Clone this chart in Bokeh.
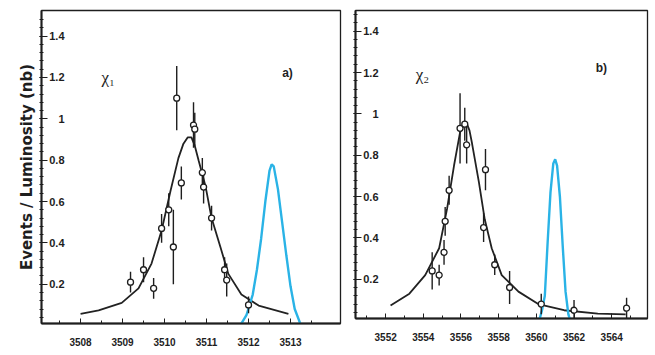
import numpy as np
from bokeh.plotting import figure
from bokeh.layouts import row
from bokeh.models import Range1d, FixedTicker, Label
from bokeh.embed import file_html
from bokeh.resources import INLINE

# ---------------- data: panel a) chi_1 ----------------
a_x = [3509.19, 3509.50, 3509.74, 3509.93, 3510.10, 3510.21, 3510.29, 3510.40,
       3510.69, 3510.72, 3510.90, 3510.93, 3511.12, 3511.43, 3511.48, 3512.00]
a_y = [0.21, 0.27, 0.18, 0.47, 0.56, 0.38, 1.10, 0.69,
       0.97, 0.95, 0.74, 0.67, 0.52, 0.27, 0.22, 0.10]
a_err = [0.05, 0.06, 0.05, 0.07, 0.08, 0.18, 0.155, 0.08,
         0.11, 0.08, 0.07, 0.08, 0.06, 0.06, 0.08, 0.04]
a_fit_x = [3508.00, 3508.43, 3508.98, 3509.38, 3509.69, 3509.93, 3510.14, 3510.33,
           3510.45, 3510.55, 3510.64, 3510.72, 3510.81, 3510.98, 3511.12, 3511.33,
           3511.52, 3511.83, 3512.24, 3512.95]
a_fit_y = [0.057, 0.073, 0.11, 0.18, 0.30, 0.46, 0.65, 0.81,
           0.88, 0.91, 0.91, 0.87, 0.80, 0.67, 0.52, 0.38,
           0.25, 0.15, 0.097, 0.057]
a_beam_x = [3511.80, 3511.95, 3512.10, 3512.20, 3512.30, 3512.40, 3512.50, 3512.55,
            3512.60, 3512.70, 3512.80, 3512.90, 3513.00, 3513.10, 3513.25]
a_beam_y = [0.0, 0.05, 0.15, 0.27, 0.42, 0.60, 0.75, 0.78,
            0.77, 0.66, 0.50, 0.34, 0.19, 0.08, 0.0]
a_xticks = [3508, 3509, 3510, 3511, 3512, 3513]
a_xtick_labels = ["3508", "3509", "3510", "3511", "3512", "3513"]

# ---------------- data: panel b) chi_2 ----------------
b_x = [3554.47, 3554.84, 3555.10, 3555.16, 3555.37, 3555.95, 3556.20, 3556.30,
       3557.20, 3557.30, 3557.79, 3558.58, 3560.26, 3562.00, 3564.79]
b_y = [0.24, 0.22, 0.33, 0.48, 0.63, 0.93, 0.95, 0.85,
       0.45, 0.73, 0.27, 0.16, 0.08, 0.05, 0.06]
b_err = [0.09, 0.05, 0.06, 0.07, 0.07, 0.17, 0.08, 0.09,
         0.07, 0.10, 0.05, 0.08, 0.05, 0.05, 0.05]
b_fit_x = [3552.26, 3553.26, 3554.10, 3554.84, 3555.26, 3555.63, 3555.95, 3556.12,
           3556.32, 3556.45, 3556.58, 3556.95, 3557.26, 3557.63, 3558.16, 3559.05,
           3560.10, 3561.47, 3563.26, 3564.74]
b_fit_y = [0.073, 0.13, 0.22, 0.35, 0.54, 0.75, 0.91, 0.945,
           0.95, 0.92, 0.86, 0.67, 0.49, 0.35, 0.22, 0.14,
           0.08, 0.05, 0.034, 0.03]
b_beam_x = [3560.15, 3560.30, 3560.45, 3560.60, 3560.75, 3560.90, 3561.00, 3561.10,
            3561.25, 3561.40, 3561.55, 3561.70, 3561.80]
b_beam_y = [0.0, 0.05, 0.12, 0.38, 0.62, 0.76, 0.78, 0.75,
            0.60, 0.36, 0.14, 0.03, 0.0]
b_xticks = [3552, 3554, 3556, 3558, 3560, 3562, 3564]
b_xtick_labels = ["3552", "3554", "3556", "3558", "3560", "3562", "3564"]

# ---------------- shared y axis ----------------
y_ticks = [0.2, 0.4, 0.6, 0.8, 1.0, 1.2, 1.4]
y_tick_labels = ["0.2", "0.4", "0.6", "0.8", "1", "1.2", "1.4"]
y_label = "Events / Luminosity (nb)"

INK = "#1e1e1e"
BLUE = "#2ab3e6"
TICK_FONT = "Liberation Sans"


def make_panel(xr, yr, fw, fh, borders, px, py, perr, fx, fy, bx, by,
               xticks, xlabels, xminor, name, tag, name_pos, tag_pos, ylabel=None):
    left, right, top, bottom = borders
    p = figure(frame_width=fw, frame_height=fh, output_backend="svg",
               toolbar_location=None, x_range=Range1d(*xr), y_range=Range1d(*yr),
               min_border_left=left, min_border_right=right,
               min_border_top=top, min_border_bottom=bottom)
    p.background_fill_color = "white"
    p.border_fill_color = "white"
    p.outline_line_color = INK
    p.outline_line_width = 1.3
    p.grid.visible = False

    # x axis
    xa = p.xaxis[0]
    xa.ticker = FixedTicker(ticks=xticks, minor_ticks=xminor)
    xa.major_label_overrides = {t: l for t, l in zip(xticks, xlabels)}
    xa.major_tick_in = 5
    xa.major_tick_out = 0
    xa.minor_tick_in = 3
    xa.minor_tick_out = 0
    xa.axis_line_width = 2
    xa.axis_line_color = INK
    xa.major_tick_line_color = INK
    xa.minor_tick_line_color = INK
    xa.major_label_text_font = TICK_FONT
    xa.major_label_text_font_style = "bold"
    xa.major_label_text_font_size = "10px"
    xa.major_label_text_color = INK
    xa.major_label_standoff = 14
    xa.axis_label_standoff = 0

    # y axis: tick labels sit just inside the frame
    ya = p.yaxis[0]
    yminor = [round(v, 3) for v in np.arange(0.04, 1.52, 0.04)]
    ya.ticker = FixedTicker(ticks=y_ticks, minor_ticks=yminor)
    ya.major_label_overrides = {t: l for t, l in zip(y_ticks, y_tick_labels)}
    ya.major_label_text_font = TICK_FONT
    ya.major_label_text_font_style = "bold"
    ya.major_label_text_font_size = "11px"
    ya.major_label_text_color = INK
    ya.major_label_standoff = -25
    ya.major_tick_in = 6
    ya.major_tick_out = 2
    ya.minor_tick_in = 2
    ya.minor_tick_out = 2
    ya.axis_line_width = 2
    ya.axis_line_color = INK
    ya.major_tick_line_color = INK
    ya.minor_tick_line_color = INK
    if ylabel:
        ya.axis_label = ylabel
        ya.axis_label_text_font = "DejaVu Sans"
        ya.axis_label_text_font_style = "bold"
        ya.axis_label_text_font_size = "15px"
        ya.axis_label_text_color = INK
        ya.axis_label_standoff = 10

    # fit curve and beam-resolution curve
    p.line(fx, fy, line_color="#222222", line_width=1.8)
    p.line(bx, by, line_color=BLUE, line_width=2.4)

    # data points with error bars
    lo = [y - e for y, e in zip(py, perr)]
    hi = [y + e for y, e in zip(py, perr)]
    p.segment(x0=px, y0=lo, x1=px, y1=hi, line_color=INK, line_width=1.4)
    p.scatter(px, py, size=6, marker="circle", fill_color="white",
              line_color=INK, line_width=1.3)

    p.add_layout(Label(x=name_pos[0], y=name_pos[1], text=name,
                       text_font="Liberation Serif", text_font_size="17px",
                       text_color=INK, text_baseline="middle"))
    p.add_layout(Label(x=tag_pos[0], y=tag_pos[1], text=tag,
                       text_font="Liberation Sans", text_font_size="12px",
                       text_font_style="bold", text_color=INK,
                       text_baseline="middle"))
    return p


a_minor = [v + 0.5 for v in range(3507, 3514)]
b_minor = list(range(3551, 3566))

pa = make_panel((3507.07, 3514.19), (0.01, 1.524), 299, 313, (41, 6, 5, 30),
                a_x, a_y, a_err, a_fit_x, a_fit_y, a_beam_x, a_beam_y,
                a_xticks, a_xtick_labels, a_minor,
                "χ₁", "a)", (3508.5, 1.2), (3512.8, 1.22), ylabel=y_label)

pb = make_panel((3550.4, 3565.9), (0.01, 1.5), 292, 308, (9, 2, 10, 30),
                b_x, b_y, b_err, b_fit_x, b_fit_y, b_beam_x, b_beam_y,
                b_xticks, b_xtick_labels, b_minor,
                "χ₂", "b)", (3553.6, 1.19), (3563.15, 1.22))

layout = row(pa, pb, spacing=0)
open("out.html", "w").write(file_html(layout, INLINE))
